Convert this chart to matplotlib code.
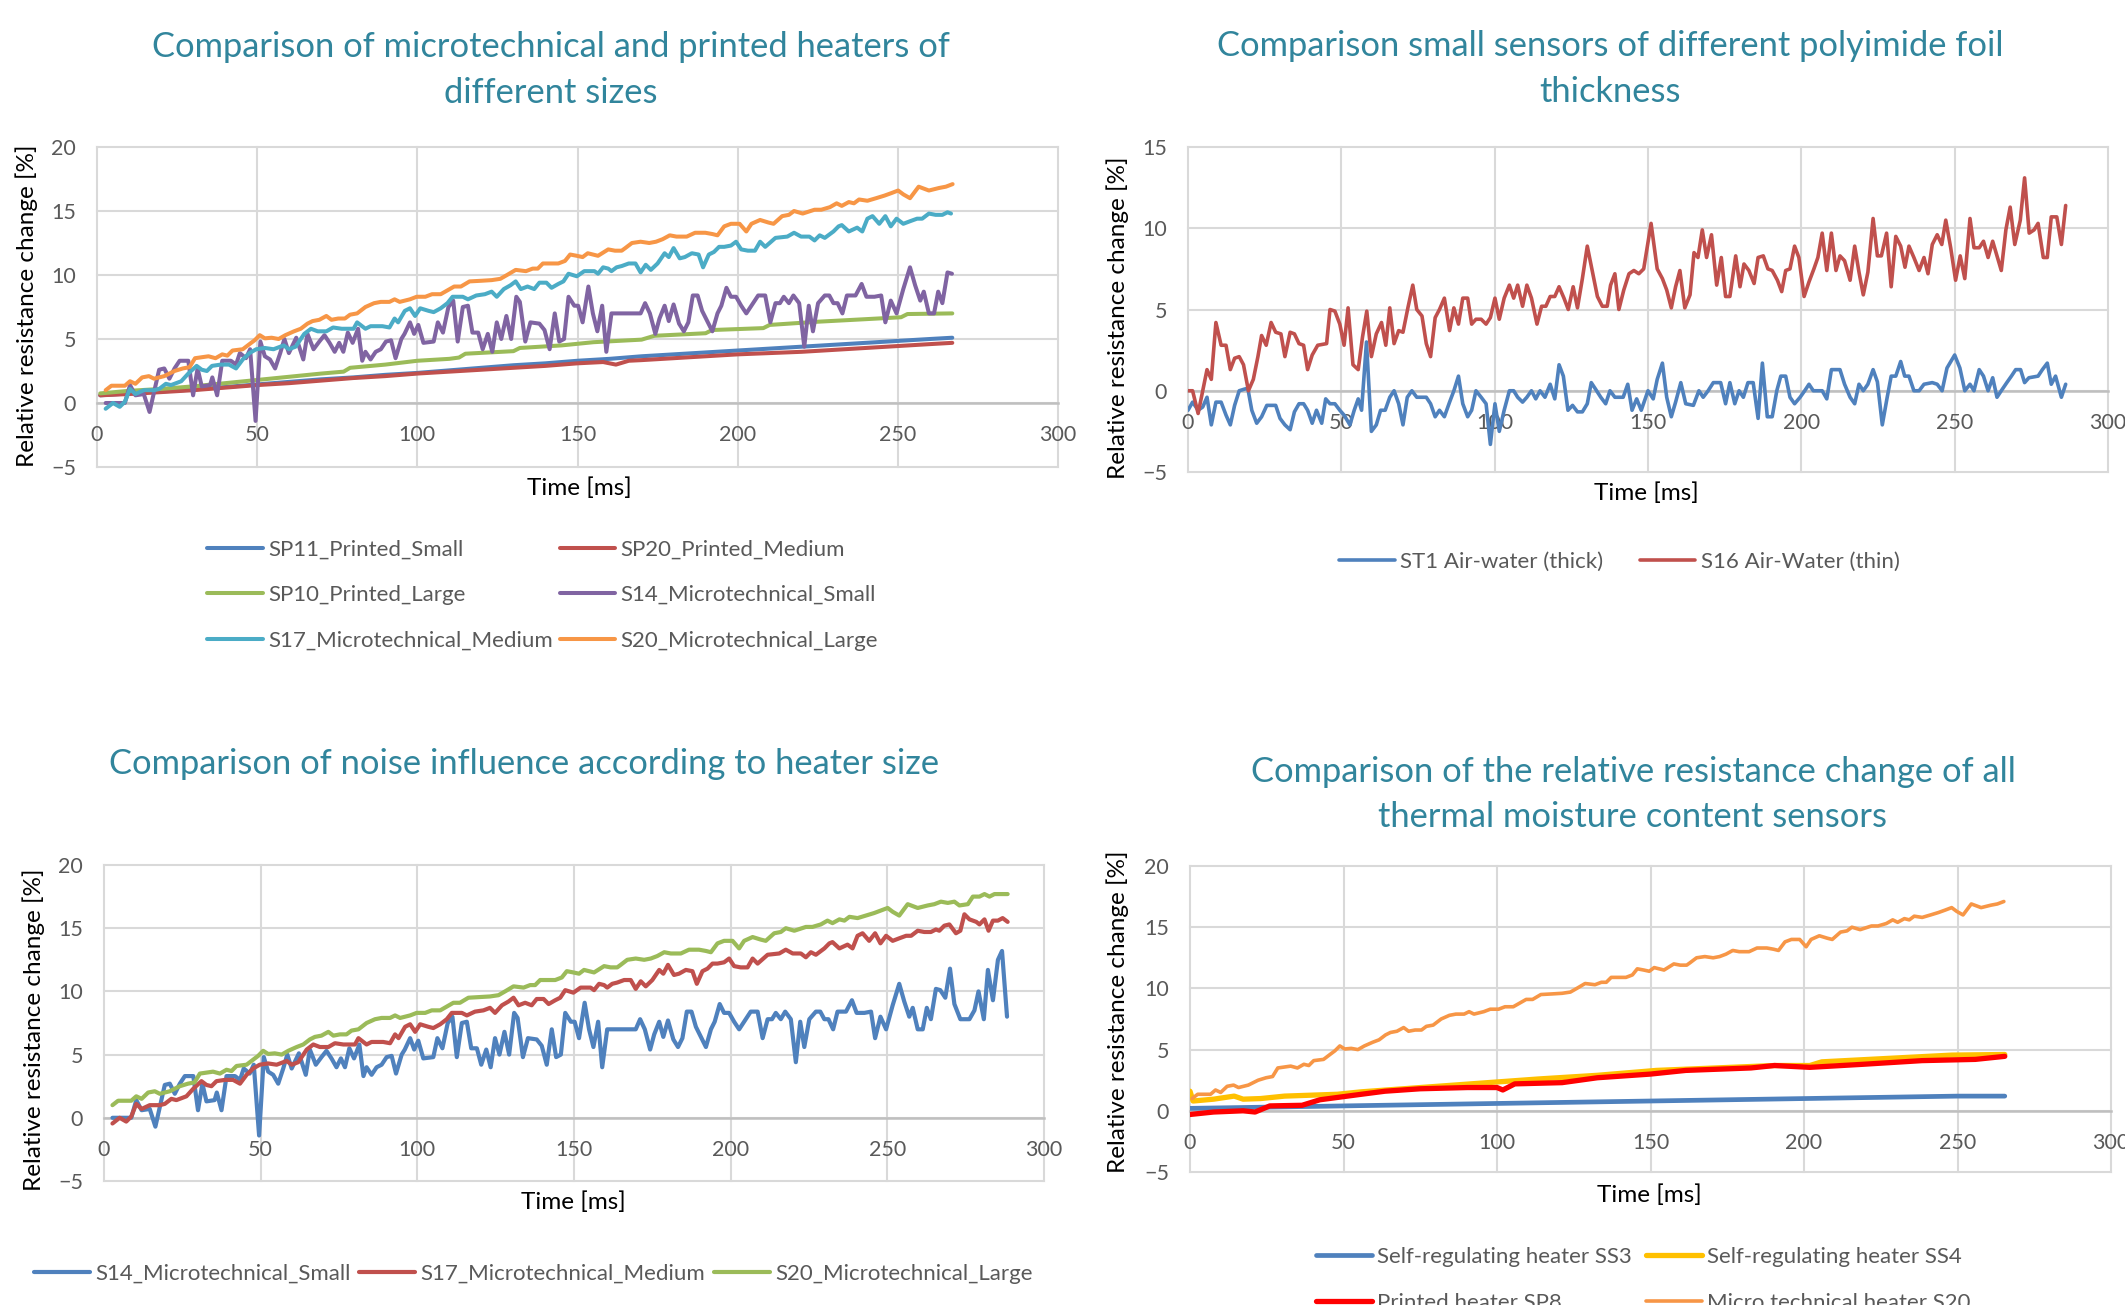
import numpy as np
import matplotlib
matplotlib.use('Agg')
import matplotlib.pyplot as plt

# ---------------- data (time [ms], relative resistance change [%]) ----------------
SP11_Printed_Small = np.array([
    (1, 0.6), (10, 0.75), (20, 0.9), (30, 1.05), (40, 1.25), (50, 1.45), (60, 1.65), (70, 1.85),
    (80, 2.0), (90, 2.2), (100, 2.35), (110, 2.55), (120, 2.75), (130, 2.95), (140, 3.1), (150, 3.3),
    (160, 3.45), (170, 3.65), (180, 3.8), (190, 3.95), (200, 4.1), (210, 4.25), (220, 4.4),
    (230, 4.55), (240, 4.7), (250, 4.85), (260, 5.0), (267, 5.1)])

SP20_Printed_Medium = np.array([
    (1, 0.6), (10, 0.7), (20, 0.85), (30, 1.0), (40, 1.2), (50, 1.4), (60, 1.55), (70, 1.75),
    (80, 1.95), (90, 2.1), (100, 2.3), (110, 2.45), (120, 2.6), (130, 2.75), (140, 2.9), (150, 3.1),
    (158, 3.2), (162, 3.0), (166, 3.3), (170, 3.35), (180, 3.5), (190, 3.65), (200, 3.8),
    (210, 3.9), (220, 4.0), (230, 4.15), (240, 4.3), (250, 4.45), (260, 4.6), (267, 4.7)])

SP10_Printed_Large = np.array([
    (1, 0.75), (10, 0.95), (20, 1.1), (30, 1.3), (40, 1.55), (50, 1.8), (60, 2.05), (70, 2.3),
    (77, 2.45), (79, 2.75), (90, 3.0), (100, 3.3), (110, 3.45), (113, 3.55), (115, 3.85),
    (130, 4.05), (132, 4.3), (145, 4.5), (155, 4.75), (170, 4.95), (174, 5.25), (190, 5.45),
    (192, 5.7), (208, 5.85), (210, 6.1), (225, 6.35), (240, 6.55), (251, 6.7), (253, 6.95),
    (267, 7.0)])

S14_Microtechnical_Small = np.array([
    (2.7, 0.0), (8.7, 0.0), (10.3, 1.4), (12.0, 0.6), (14.6, 0.7), (16.4, -0.7), (19.4, 2.6),
    (21.0, 2.7), (22.6, 1.9), (24.2, 2.7), (25.8, 3.3), (28.5, 3.3), (30.0, 0.6), (31.4, 2.7),
    (32.7, 1.3), (35.3, 1.4), (36.0, 2.0), (37.5, 0.6), (39.1, 3.3), (41.8, 3.3), (43.4, 3.0),
    (44.6, 3.9), (46.5, 3.5), (47.8, 4.2), (49.5, -1.4), (51.0, 4.8), (52.4, 3.65), (54.0, 3.4),
    (55.6, 2.7), (57.2, 3.9), (58.5, 5.0), (59.9, 3.9), (62.2, 5.1), (64.4, 3.4), (65.7, 5.4),
    (67.6, 4.2), (69.4, 4.8), (71.0, 5.3), (72.6, 4.7), (74.2, 4.0), (75.6, 4.7), (76.9, 4.0),
    (78.3, 5.5), (79.8, 4.7), (81.5, 5.8), (82.8, 3.3), (83.8, 4.0), (85.4, 3.4), (87.0, 4.0),
    (88.6, 4.2), (90.2, 4.8), (91.8, 4.9), (93.2, 3.5), (95.0, 5.0), (96.0, 5.4), (97.7, 6.3),
    (99.0, 5.4), (100.3, 6.1), (101.9, 4.7), (105.1, 4.8), (106.4, 6.3), (108.0, 5.5),
    (109.7, 7.5), (111.2, 8.0), (112.6, 4.8), (114.2, 7.5), (115.8, 7.6), (117.2, 5.5),
    (119.0, 5.5), (120.4, 4.2), (122.0, 5.4), (123.4, 4.0), (124.8, 6.3), (126.2, 5.0),
    (127.8, 6.8), (129.3, 5.0), (130.9, 8.3), (132.0, 7.9), (133.7, 4.8), (135.3, 6.3),
    (138.1, 6.2), (139.7, 5.7), (141.3, 4.2), (142.9, 7.0), (144.3, 4.8), (145.8, 5.0),
    (147.2, 8.3), (149.0, 7.6), (150.2, 7.6), (151.6, 6.3), (153.4, 9.1), (154.8, 7.0),
    (156.2, 5.6), (157.7, 7.6), (159.0, 4.0), (160.6, 7.0), (167.0, 7.0), (168.6, 7.0),
    (169.7, 7.0), (171.1, 7.8), (172.6, 7.0), (174.3, 5.4), (175.6, 6.6), (177.2, 7.6),
    (178.5, 6.4), (180.0, 7.7), (181.7, 6.2), (183.2, 5.6), (184.6, 6.3), (186.0, 8.4),
    (187.5, 8.4), (188.9, 7.2), (190.5, 6.4), (192.1, 5.6), (193.7, 7.0), (194.9, 7.6),
    (196.5, 9.0), (197.9, 8.3), (199.5, 8.3), (201.1, 7.6), (202.7, 7.0), (204.3, 7.6),
    (206.4, 8.4), (208.6, 8.4), (210.2, 6.3), (211.8, 7.8), (213.2, 7.8), (214.4, 8.3),
    (216.0, 7.8), (217.4, 8.4), (219.2, 7.8), (220.8, 4.4), (222.2, 7.6), (223.5, 5.6),
    (225.1, 7.8), (227.2, 8.4), (228.6, 8.4), (229.9, 7.8), (231.2, 7.8), (232.7, 7.0),
    (234.1, 8.4), (236.8, 8.4), (238.7, 9.3), (240.2, 8.3), (242.7, 8.3), (244.8, 8.4),
    (246.1, 6.3), (247.8, 8.0), (249.6, 7.0), (251.7, 8.9), (253.8, 10.6), (255.4, 9.2),
    (257.0, 8.0), (258.1, 8.7), (259.7, 7.0), (261.3, 7.0), (262.6, 8.7), (263.9, 7.8),
    (265.5, 10.2), (266.9, 10.1), (268.5, 9.5), (270.0, 11.8), (271.4, 9.0), (273.3, 7.8),
    (276.2, 7.8), (277.8, 8.5), (279.1, 10.0), (280.8, 7.8), (282.1, 11.7), (283.7, 9.3),
    (285.3, 12.5), (286.6, 13.2), (288.2, 8.0)])

S17_Microtechnical_Medium = np.array([
    (2.7, -0.45), (5.0, 0.0), (7.1, -0.3), (8.7, 0.1), (10.3, 1.1), (12.0, 0.7), (14.6, 1.0),
    (17.8, 1.0), (19.4, 1.1), (21.5, 1.5), (23.1, 1.4), (26.3, 1.7), (28.5, 2.3), (31.1, 2.9),
    (32.7, 2.6), (34.3, 2.5), (35.9, 2.9), (38.6, 3.0), (41.2, 3.0), (43.4, 2.7), (45.5, 3.4),
    (47.6, 3.9), (49.7, 4.2), (52.4, 4.3), (55.1, 4.2), (58.3, 4.5), (59.9, 4.2), (62.0, 4.4),
    (64.7, 5.4), (66.8, 5.8), (68.9, 5.6), (71.6, 5.6), (73.7, 5.9), (76.4, 5.8), (80.1, 5.8),
    (81.2, 6.3), (83.8, 5.8), (85.4, 6.0), (89.1, 6.0), (91.3, 5.9), (92.9, 6.6), (94.0, 6.3),
    (96.1, 7.2), (97.7, 7.4), (99.3, 6.8), (100.9, 7.4), (103.5, 7.2), (105.1, 7.1),
    (107.3, 7.4), (109.4, 7.8), (111.0, 8.3), (114.2, 8.3), (115.8, 8.1), (118.4, 8.4),
    (121.1, 8.5), (123.2, 8.7), (124.8, 8.3), (127.0, 8.9), (129.1, 9.2), (130.7, 9.5),
    (132.3, 8.9), (134.4, 9.1), (136.5, 8.9), (138.1, 9.4), (140.3, 9.4), (141.9, 9.0),
    (144.0, 9.3), (145.6, 9.5), (147.2, 10.1), (149.8, 9.9), (152.1, 10.3), (155.3, 10.3),
    (156.4, 10.1), (158.0, 10.6), (159.6, 10.5), (160.6, 10.3), (162.2, 10.6), (163.8, 10.7),
    (166.0, 10.9), (168.1, 10.9), (169.7, 10.2), (171.3, 10.8), (172.9, 10.4), (175.0, 10.9),
    (177.2, 11.7), (178.5, 11.4), (180.0, 12.1), (181.9, 11.3), (183.5, 11.4), (185.7, 11.7),
    (187.8, 11.6), (189.2, 10.6), (191.0, 11.6), (192.6, 11.8), (194.2, 12.2), (195.8, 12.2),
    (197.9, 12.3), (199.5, 12.6), (201.1, 12.0), (203.2, 11.9), (205.4, 11.9), (207.0, 12.6),
    (208.6, 12.2), (211.8, 12.9), (215.5, 13.0), (217.6, 13.3), (219.8, 13.0), (222.4, 13.0),
    (224.0, 12.7), (225.6, 13.1), (227.2, 12.9), (229.9, 13.4), (231.5, 13.8), (232.5, 13.9),
    (234.7, 13.4), (237.3, 13.7), (238.9, 13.4), (240.5, 14.4), (242.1, 14.6), (244.2, 14.0),
    (246.1, 14.6), (247.8, 13.8), (249.6, 14.4), (251.7, 14.0), (253.8, 14.2), (256.0, 14.4),
    (257.6, 14.4), (259.7, 14.8), (261.8, 14.7), (263.9, 14.7), (265.5, 14.9), (266.6, 14.8),
    (268.2, 15.2), (269.8, 15.3), (271.9, 14.6), (273.3, 14.8), (274.6, 16.1), (276.2, 15.7),
    (278.4, 15.5), (279.4, 15.3), (281.0, 15.7), (282.3, 14.8), (283.7, 15.6), (285.3, 15.6),
    (286.8, 15.8), (288.4, 15.5)])

S20_Microtechnical_Large = np.array([
    (2.7, 1.0), (4.5, 1.35), (8.7, 1.35), (10.3, 1.7), (12.0, 1.5), (14.1, 2.0), (16.2, 2.1),
    (17.8, 1.9), (21.0, 2.1), (24.2, 2.5), (26.8, 2.7), (28.9, 2.8), (30.6, 3.5), (34.8, 3.65),
    (37.0, 3.5), (39.1, 3.8), (40.7, 3.7), (42.3, 4.1), (45.5, 4.2), (47.6, 4.6), (49.2, 4.9),
    (50.8, 5.3), (52.4, 5.05), (54.5, 5.1), (56.7, 5.0), (58.8, 5.3), (61.5, 5.6), (63.6, 5.8),
    (65.7, 6.2), (67.3, 6.4), (69.4, 6.5), (71.6, 6.8), (73.2, 6.5), (75.3, 6.6), (77.4, 6.6),
    (79.0, 6.9), (81.2, 7.0), (83.8, 7.5), (86.5, 7.8), (88.6, 7.9), (91.3, 7.9), (92.9, 8.1),
    (94.5, 7.9), (97.7, 8.1), (99.8, 8.3), (102.5, 8.3), (104.6, 8.5), (107.3, 8.5),
    (109.4, 8.8), (111.5, 9.1), (113.6, 9.1), (116.3, 9.5), (120.0, 9.55), (123.2, 9.6),
    (125.9, 9.7), (128.0, 10.0), (130.7, 10.4), (133.9, 10.3), (136.0, 10.5), (137.6, 10.5),
    (139.2, 10.9), (141.3, 10.9), (144.0, 10.9), (146.1, 11.1), (147.7, 11.6), (149.8, 11.5),
    (151.6, 11.4), (153.2, 11.7), (156.4, 11.5), (159.6, 12.0), (161.7, 11.9), (163.8, 11.9),
    (164.9, 12.1), (167.0, 12.5), (169.7, 12.6), (172.4, 12.5), (174.5, 12.6), (176.6, 12.8),
    (178.8, 13.1), (180.9, 13.0), (184.1, 13.0), (186.7, 13.3), (189.9, 13.3), (192.1, 13.2),
    (193.7, 13.1), (195.8, 13.8), (197.9, 14.0), (200.6, 14.0), (202.7, 13.4), (204.3, 14.0),
    (207.0, 14.3), (209.6, 14.1), (211.2, 14.0), (213.9, 14.6), (216.0, 14.7), (217.6, 15.0),
    (220.3, 14.8), (224.0, 15.1), (226.1, 15.1), (228.8, 15.3), (230.9, 15.6), (232.5, 15.4),
    (234.7, 15.7), (236.3, 15.6), (237.9, 15.9), (240.5, 15.8), (243.2, 16.0), (245.8, 16.2),
    (248.0, 16.4), (250.1, 16.6), (251.7, 16.3), (253.8, 16.0), (256.5, 16.9), (259.7, 16.6),
    (262.9, 16.8), (265.0, 16.9), (267.1, 17.1), (269.3, 17.0), (271.4, 17.1), (273.0, 16.8),
    (275.7, 16.9), (277.3, 17.5), (279.4, 17.5), (281.0, 17.7), (282.6, 17.5), (284.2, 17.7),
    (286.3, 17.7), (288.4, 17.7)])

ST1_Air_water_thick = np.array([
    (0, -1.2), (1.5, -0.7), (3.3, -1.2), (4.8, -1.0), (6.2, -0.4), (7.6, -2.1), (9.1, -0.7),
    (10.8, -0.7), (12.4, -1.5), (13.8, -2.1), (15.2, -0.9), (16.7, 0.0), (18.4, 0.1),
    (19.5, 0.15), (20.8, -1.2), (22.4, -2.0), (24.0, -1.6), (25.7, -0.9), (28.6, -0.9),
    (30.0, -1.7), (31.6, -2.1), (33.3, -2.4), (34.7, -1.3), (36.2, -0.8), (37.7, -0.8),
    (39.0, -1.2), (40.5, -2.0), (41.9, -1.2), (43.6, -2.0), (44.9, -0.5), (46.3, -0.8),
    (47.9, -0.8), (49.5, -1.2), (50.9, -1.5), (52.8, -2.1), (54.2, -1.2), (55.5, -0.5),
    (56.6, -1.2), (58.2, 3.0), (59.8, -2.5), (61.4, -2.1), (62.8, -1.2), (64.3, -1.2),
    (65.8, -0.4), (67.2, 0.0), (68.7, -0.8), (70.1, -2.1), (71.5, -0.4), (73.0, 0.0),
    (74.6, -0.4), (77.7, -0.4), (79.1, -0.8), (80.6, -1.6), (82.0, -1.2), (83.6, -1.6),
    (85.3, -0.7), (86.7, 0.0), (88.2, 0.9), (89.6, -0.8), (91.2, -1.6), (92.5, -1.2),
    (93.9, 0.0), (95.6, -0.4), (97.2, -0.8), (98.6, -3.3), (100.1, -0.8), (101.5, -2.5),
    (103.1, -1.2), (104.8, 0.0), (106.2, 0.0), (107.5, -0.4), (109.1, -0.7), (110.5, -0.4),
    (112.0, 0.0), (113.4, -0.5), (114.8, 0.0), (116.4, -0.4), (118.1, 0.4), (119.6, -0.5),
    (121.0, 1.6), (122.4, 0.9), (123.9, -1.2), (125.4, -0.9), (127.0, -1.3), (128.6, -1.3),
    (130.2, -0.8), (131.5, 0.5), (132.9, 0.1), (134.6, -0.4), (136.2, -0.8), (137.6, 0.0),
    (139.2, -0.4), (141.9, -0.4), (143.4, 0.4), (144.8, -1.2), (146.3, -0.5), (147.8, -1.2),
    (150.0, 0.0), (151.7, -0.5), (153.0, 0.7), (154.7, 1.7), (156.1, -0.4), (157.6, -1.6),
    (159.0, -0.7), (160.7, 0.5), (162.3, -0.8), (164.8, -0.9), (166.6, 0.0), (168.0, -0.4),
    (169.6, 0.0), (171.3, 0.5), (173.7, 0.5), (175.3, -0.8), (176.7, 0.5), (178.3, -0.8),
    (179.7, 0.0), (181.1, -0.4), (182.6, 0.5), (184.3, 0.5), (185.9, -1.7), (187.3, 1.7),
    (188.9, -1.6), (190.5, -1.6), (192.0, 0.0), (193.3, 0.9), (194.9, 0.9), (196.3, -0.4),
    (197.8, -0.8), (199.6, -0.4), (201.1, 0.0), (202.5, 0.4), (203.9, 0.0), (206.8, 0.0),
    (208.3, -0.5), (209.8, 1.3), (212.6, 1.3), (214.1, 0.4), (215.9, -0.4), (217.4, -0.8),
    (218.8, 0.4), (220.2, 0.0), (221.7, 0.4), (223.4, 1.3), (224.8, 0.55), (226.4, -2.1),
    (228.0, -0.4), (229.3, 0.9), (230.8, 0.9), (232.4, 1.8), (233.7, 0.9), (235.1, 0.9),
    (236.7, 0.0), (238.4, 0.0), (240.0, 0.4), (242.7, 0.5), (244.3, 0.4), (245.9, 0.0),
    (247.5, 1.4), (250.0, 2.2), (251.7, 1.4), (253.3, 0.0), (255.0, 0.4), (256.3, 0.0),
    (258.0, 1.3), (259.4, 0.9), (260.9, 0.0), (262.4, 0.8), (263.8, -0.4), (265.2, 0.0),
    (267.0, 0.5), (268.5, 0.9), (269.9, 1.3), (271.5, 1.3), (272.8, 0.5), (274.2, 0.8),
    (277.2, 0.9), (278.6, 1.3), (280.2, 1.7), (281.5, 0.4), (282.9, 0.9), (284.8, -0.4),
    (286.2, 0.4)])

S16_Air_Water_thin = np.array([
    (0, 0.0), (1.5, 0.0), (3.3, -1.4), (4.6, -0.2), (6.2, 1.3), (7.6, 0.7), (9.1, 4.2),
    (10.8, 2.8), (12.4, 2.8), (13.8, 1.3), (15.2, 2.0), (16.7, 2.1), (18.1, 1.6), (19.7, 0.0),
    (21.3, 0.7), (22.8, 2.1), (24.0, 3.4), (25.5, 2.8), (27.1, 4.2), (28.6, 3.6), (30.3, 3.5),
    (31.6, 2.1), (33.3, 3.6), (34.7, 3.5), (36.2, 2.9), (37.7, 2.8), (39.0, 1.3), (40.5, 2.2),
    (42.3, 2.8), (45.2, 2.9), (46.3, 5.0), (47.9, 4.9), (49.5, 4.1), (50.9, 2.8), (52.2, 5.1),
    (53.8, 1.6), (55.5, 1.3), (56.9, 3.3), (58.3, 4.9), (59.8, 2.1), (61.4, 3.5), (63.1, 4.2),
    (64.5, 2.8), (65.8, 5.1), (67.2, 2.9), (68.7, 3.7), (70.1, 3.6), (71.7, 5.1), (73.3, 6.5),
    (74.6, 5.0), (76.3, 4.6), (77.7, 2.9), (79.1, 2.1), (80.6, 4.5), (82.0, 5.0), (83.6, 5.7),
    (85.3, 3.7), (86.7, 5.1), (88.2, 4.1), (89.6, 5.7), (91.2, 5.7), (92.5, 4.1), (93.9, 4.4),
    (95.6, 4.4), (97.2, 4.1), (98.6, 4.5), (100.1, 5.7), (101.5, 4.4), (103.1, 5.7),
    (104.8, 6.5), (106.2, 5.7), (107.5, 6.5), (109.1, 5.2), (110.5, 6.5), (112.0, 5.7),
    (113.8, 4.1), (115.3, 5.2), (116.7, 5.2), (118.1, 5.8), (119.6, 5.8), (121.0, 6.4),
    (122.6, 5.7), (124.0, 5.0), (125.6, 6.4), (127.0, 5.1), (128.6, 6.9), (130.2, 8.9),
    (131.9, 7.3), (133.5, 5.8), (135.1, 5.2), (136.7, 5.2), (137.8, 6.5), (139.2, 7.2),
    (140.5, 5.0), (142.1, 6.2), (143.8, 7.2), (145.4, 7.4), (147.0, 7.2), (148.6, 7.5),
    (151.0, 10.3), (153.0, 7.5), (154.7, 6.9), (156.1, 6.2), (157.6, 5.1), (159.0, 6.4),
    (160.4, 7.4), (162.0, 5.1), (163.7, 5.9), (165.0, 8.5), (166.3, 8.2), (167.7, 9.9),
    (169.1, 8.2), (170.7, 9.6), (172.4, 6.5), (173.9, 8.2), (175.3, 5.8), (176.7, 5.8),
    (178.6, 8.3), (180.0, 6.4), (181.3, 7.8), (182.9, 7.4), (184.6, 6.6), (185.9, 8.2),
    (187.6, 8.3), (189.1, 7.5), (190.5, 7.4), (192.2, 6.8), (193.6, 6.1), (194.9, 7.4),
    (196.3, 7.5), (197.8, 8.9), (199.2, 8.2), (200.9, 5.8), (202.5, 6.7), (204.1, 7.5),
    (205.4, 8.2), (206.8, 9.7), (208.3, 7.4), (209.8, 9.7), (211.3, 7.4), (212.6, 8.3),
    (214.1, 8.0), (215.9, 6.8), (217.4, 8.9), (218.8, 7.3), (220.2, 5.9), (221.7, 7.3),
    (223.4, 10.6), (224.8, 8.3), (226.1, 8.3), (227.8, 9.7), (229.3, 6.4), (230.8, 9.5),
    (232.4, 8.9), (233.8, 7.6), (235.1, 8.9), (236.7, 8.2), (238.4, 7.4), (240.0, 8.2),
    (241.3, 7.2), (242.7, 9.0), (244.3, 9.6), (245.8, 9.0), (247.1, 10.5), (248.7, 8.8),
    (250.3, 6.8), (251.8, 8.3), (253.3, 6.9), (255.0, 10.6), (256.3, 8.8), (258.0, 8.8),
    (259.4, 9.2), (260.9, 8.2), (262.4, 9.2), (263.8, 8.3), (265.2, 7.4), (266.7, 9.9),
    (268.1, 11.3), (269.6, 9.0), (271.4, 10.5), (272.8, 13.1), (274.3, 9.7), (275.9, 9.9),
    (277.2, 10.3), (278.9, 8.2), (280.2, 8.2), (281.5, 10.7), (283.3, 10.7), (284.8, 9.0),
    (286.2, 11.4)])

SS3_Self_regulating = np.array([
    (0, 0.2), (25, 0.3), (50, 0.4), (75, 0.5), (100, 0.6), (125, 0.7), (150, 0.8),
    (175, 0.9), (200, 1.0), (225, 1.1), (250, 1.2), (265.4, 1.2)])

SS4_Self_regulating = np.array([
    (0, 1.6), (1, 0.8), (7.7, 0.95), (14.4, 1.2), (17.3, 0.95), (23, 1.0), (30.8, 1.2),
    (48, 1.35), (55.8, 1.55), (75, 1.9), (94.2, 2.25), (113.5, 2.6), (132.7, 2.9),
    (151.9, 3.3), (171.2, 3.5), (190.4, 3.7), (201.9, 3.7), (205.8, 4.0), (228.8, 4.3),
    (248.1, 4.55), (265.4, 4.6)])

SP8_Printed = np.array([
    (0, -0.3), (7.7, -0.1), (17.3, 0.0), (21.2, -0.1), (26, 0.4), (36.5, 0.45), (42.3, 0.9),
    (55.8, 1.35), (63.5, 1.6), (75, 1.8), (90.4, 1.9), (100, 1.9), (101.9, 1.7), (105.8, 2.2),
    (121.2, 2.3), (132.7, 2.7), (150, 3.0), (161.5, 3.3), (182.7, 3.5), (190.4, 3.7),
    (201.9, 3.55), (219.2, 3.8), (238.5, 4.1), (255.8, 4.2), (265.4, 4.45)])

# time limits / offsets of the individual recordings
T_END_FIG1 = 267.5
T_END_FIG4 = 268.0
T_OFFSET_FIG4 = -2.0

TITLES = [
    ["Comparison of microtechnical and printed heaters of", "different sizes"],
    ["Comparison small sensors of different polyimide foil", "thickness"],
    ["Comparison of noise influence according to heater size"],
    ["Comparison of the relative resistance change of all", "thermal moisture content sensors"],
]

# ---------------- figure ----------------
W, H, DPI = 2125, 1305, 100
plt.rcParams['font.family'] = ['Lato', 'DejaVu Sans']
fig = plt.figure(figsize=(W / DPI, H / DPI), dpi=DPI)

BLUE, RED, GREEN, PURPLE, AQUA, ORANGE = '#4F81BD', '#C0504D', '#9BBB59', '#8064A2', '#4BACC6', '#F79646'
GRID, AXIS, TICK, TITLE_C = '#D9D9D9', '#BFBFBF', '#595959', '#31859C'


def rect(l, t, r, b):
    return [l / W, 1 - b / H, (r - l) / W, (b - t) / H]


def style(ax, ymin, ymax):
    ax.set_xlim(0, 300)
    ax.set_ylim(ymin, ymax)
    ax.set_xticks(range(0, 301, 50))
    ax.set_yticks(range(ymin, ymax + 1, 5))
    ax.grid(True, color=GRID, lw=1.5)
    ax.set_axisbelow(True)
    for s in ['top', 'right', 'left']:
        ax.spines[s].set_visible(False)
    sp = ax.spines['bottom']
    sp.set_position(('data', 0))
    sp.set_color(AXIS)
    sp.set_linewidth(1.8)
    sp.set_zorder(1)
    ax.tick_params(axis='both', length=0, colors=TICK, labelsize=15.5)
    ax.tick_params(axis='y', pad=15)
    ax.tick_params(axis='x', pad=16)
    for gl in ax.get_xgridlines() + ax.get_ygridlines():
        gl.set_clip_on(False)
    ax.patch.set_alpha(0)


def plot(ax, arr, color, label, lw=2.9, tmax=None, toff=0.0):
    t = arr[:, 0] + toff
    v = arr[:, 1]
    if tmax is not None:
        m = t <= tmax
        t, v = t[m], v[m]
    line, = ax.plot(t, v, color=color, lw=lw, label=label,
                    solid_joinstyle='round', solid_capstyle='round')
    return line


def fig_text(x, y, s, **kw):
    fig.text(x / W, 1 - y / H, s, **kw)


def legend(ax, handles, x, y, ncol, colsp):
    # Excel fills legend rows first; matplotlib fills columns first -> reorder
    nrow = int(np.ceil(len(handles) / ncol))
    order = [r * ncol + c for c in range(ncol) for r in range(nrow) if r * ncol + c < len(handles)]
    hs = [handles[i] for i in order]
    ax.legend(handles=hs, loc='center left', bbox_to_anchor=(x / W, 1 - y / H),
              bbox_transform=fig.transFigure, ncol=ncol, frameon=False, fontsize=16,
              handlelength=2.5, handletextpad=0.25, columnspacing=colsp, labelspacing=1.15,
              borderpad=0, borderaxespad=0, labelcolor=TICK)


# ---- panel 1 ----
ax1 = fig.add_axes(rect(97, 147, 1058, 467))
style(ax1, -5, 20)
h1 = [plot(ax1, SP11_Printed_Small, BLUE, 'SP11_Printed_Small', tmax=T_END_FIG1),
      plot(ax1, SP20_Printed_Medium, RED, 'SP20_Printed_Medium', tmax=T_END_FIG1),
      plot(ax1, SP10_Printed_Large, GREEN, 'SP10_Printed_Large', tmax=T_END_FIG1),
      plot(ax1, S14_Microtechnical_Small, PURPLE, 'S14_Microtechnical_Small', tmax=T_END_FIG1),
      plot(ax1, S17_Microtechnical_Medium, AQUA, 'S17_Microtechnical_Medium', tmax=T_END_FIG1),
      plot(ax1, S20_Microtechnical_Large, ORANGE, 'S20_Microtechnical_Large', tmax=T_END_FIG1)]
legend(ax1, h1, 207, 595, 2, 0.3)

# ---- panel 2 ----
ax2 = fig.add_axes(rect(1188, 147, 2108, 472))
style(ax2, -5, 15)
h2 = [plot(ax2, ST1_Air_water_thick, BLUE, 'ST1 Air-water (thick)', lw=2.6),
      plot(ax2, S16_Air_Water_thin, RED, 'S16 Air-Water (thin)', lw=2.6)]
legend(ax2, h2, 1339, 562, 2, 1.65)

# ---- panel 3 ----
ax3 = fig.add_axes(rect(104, 865, 1044, 1181))
style(ax3, -5, 20)
h3 = [plot(ax3, S14_Microtechnical_Small, BLUE, 'S14_Microtechnical_Small', lw=3.0),
      plot(ax3, S17_Microtechnical_Medium, RED, 'S17_Microtechnical_Medium', lw=3.0),
      plot(ax3, S20_Microtechnical_Large, GREEN, 'S20_Microtechnical_Large', lw=3.0)]
legend(ax3, h3, 34, 1274, 3, 0.4)

# ---- panel 4 ----
ax4 = fig.add_axes(rect(1190, 866, 2111, 1172))
style(ax4, -5, 20)
h4 = [plot(ax4, SS3_Self_regulating, BLUE, 'Self-regulating heater SS3', lw=3.4),
      plot(ax4, SS4_Self_regulating, '#FFC000', 'Self-regulating heater SS4', lw=3.8),
      plot(ax4, SP8_Printed, '#FF0000', 'Printed heater SP8', lw=3.8),
      plot(ax4, S20_Microtechnical_Large, ORANGE, 'Micro technical heater S20', lw=2.6,
           tmax=T_END_FIG4 + T_OFFSET_FIG4, toff=T_OFFSET_FIG4)]
legend(ax4, h4, 1316, 1280, 2, 0.65)

# ---- titles and axis titles ----
title_pos = [(551, [47, 93]), (1610, [46, 92]), (524, [764]), (1633, [772, 817])]
for (cx, ys), lines in zip(title_pos, TITLES):
    for y, s in zip(ys, lines):
        fig_text(cx, y, s, ha='center', va='center', fontsize=24.8, color=TITLE_C)

for x, y in [(27, 306), (1118, 318), (34, 1030), (1118, 1012)]:
    fig_text(x, y, 'Relative resistance change [%]', rotation=90, ha='center', va='center',
             fontsize=17.5, color='black')
for x, y in [(579, 488), (1646, 493), (573, 1202), (1649, 1195)]:
    fig_text(x, y, 'Time [ms]', ha='center', va='center', fontsize=17.5, color='black')

fig.savefig('out.png', dpi=DPI)
